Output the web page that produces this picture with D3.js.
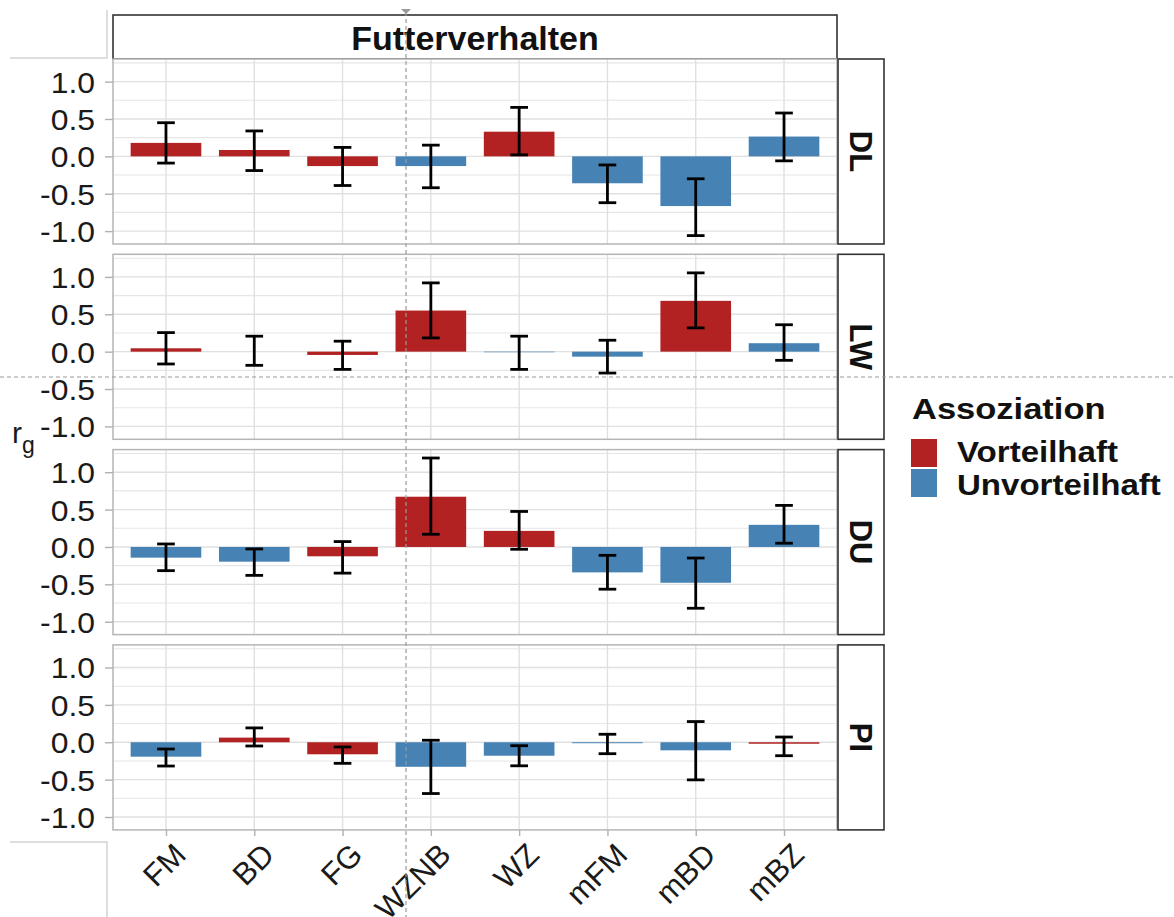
<!DOCTYPE html>
<html>
<head>
<meta charset="utf-8">
<script src="https://cdn.jsdelivr.net/npm/d3@7"></script>
<style>
  html, body { margin: 0; padding: 0; background: #ffffff; }
  svg { display: block; font-family: "Liberation Sans", Arial, sans-serif; }
</style>
</head>
<body>
<script>
// Genetic correlations (r_g) of feeding-behaviour traits with four performance traits
const categories = ["FM", "BD", "FG", "WZNB", "WZ", "mFM", "mBD", "mBZ"];
const traits = ["DL", "LW", "DU", "PI"];
const stripTitle = "Futterverhalten";
const legendTitle = "Assoziation";
const assocLevels = ["Vorteilhaft", "Unvorteilhaft"];
const yTicks = [-1.0, -0.5, 0.0, 0.5, 1.0];
const yMinorTicks = [-0.75, -0.25, 0.25, 0.75, 1.25];

// estimates per trait, ordered like `categories`
const rgDL = [0.18, 0.085, -0.13, -0.13, 0.33, -0.36, -0.665, 0.265];
const loDL = [-0.09, -0.19, -0.39, -0.42, 0.02, -0.62, -1.06, -0.06];
const hiDL = [0.45, 0.34, 0.12, 0.15, 0.655, -0.115, -0.30, 0.58];
const asDL = ["V", "V", "V", "U", "V", "U", "U", "U"];

const rgLW = [0.045, 0.0, -0.044, 0.55, -0.008, -0.067, 0.68, 0.113];
const loLW = [-0.165, -0.183, -0.237, 0.184, -0.237, -0.286, 0.318, -0.116];
const hiLW = [0.255, 0.207, 0.14, 0.92, 0.207, 0.153, 1.054, 0.36];
const asLW = ["V", "U", "V", "V", "U", "U", "V", "U"];

const rgDU = [-0.143, -0.197, -0.125, 0.672, 0.215, -0.34, -0.479, 0.296];
const loDU = [-0.317, -0.38, -0.35, 0.17, -0.031, -0.565, -0.82, 0.05];
const hiDU = [0.04, -0.027, 0.072, 1.19, 0.475, -0.112, -0.148, 0.556];
const asDU = ["U", "U", "V", "V", "V", "U", "U", "U"];

const rgPI = [-0.193, 0.062, -0.161, -0.328, -0.18, -0.013, -0.108, -0.02];
const loPI = [-0.318, -0.05, -0.282, -0.686, -0.315, -0.153, -0.503, -0.18];
const hiPI = [-0.09, 0.192, -0.063, 0.027, -0.046, 0.107, 0.277, 0.07];
const asPI = ["U", "V", "V", "U", "U", "U", "U", "V"];

const series = {
  DL: { rg: rgDL, lo: loDL, hi: hiDL, as: asDL },
  LW: { rg: rgLW, lo: loLW, hi: hiLW, as: asLW },
  DU: { rg: rgDU, lo: loDU, hi: hiDU, as: asDU },
  PI: { rg: rgPI, lo: loPI, hi: hiPI, as: asPI }
};

// ---- layout ----
const W = 1174, H = 917;
const panelLeft = 113, panelRight = 837;
const panelTop0 = 59, panelH = 185, panelGap = 10.3;
const stripW = 46;
const font = '"Liberation Sans", Arial, sans-serif';
const textWiden = 1.1;   // glyphs are set slightly wide
const fillColor = d3.scaleOrdinal().domain(["V", "U"]).range(["#B22222", "#4682B4"]);

const svg = d3.select("body").append("svg").attr("width", W).attr("height", H);

const x = d3.scalePoint().domain(categories).range([panelLeft, panelRight]).padding(0.6);
const bandW = x.step() * 0.8;
const capW = x.step() * 0.2;

// shared y-range with 5% expansion on each side
const allLo = d3.min(traits, t => d3.min(series[t].lo));
const allHi = d3.max(traits, t => d3.max(series[t].hi));
const pad = (allHi - allLo) * 0.05;
const yDomain = [allLo - pad, allHi + pad];

// top facet strip
svg.append("rect")
  .attr("x", panelLeft).attr("y", 15)
  .attr("width", panelRight - panelLeft).attr("height", panelTop0 - 15)
  .attr("fill", "#ffffff").attr("stroke", "#333333").attr("stroke-width", 1.6);
svg.append("text")
  .attr("x", (panelLeft + panelRight) / 2).attr("y", 50)
  .attr("text-anchor", "middle")
  .attr("font-size", 34).attr("font-weight", "bold").attr("fill", "#111")
  .text(stripTitle);

traits.forEach((t, i) => {
  const top = panelTop0 + i * (panelH + panelGap);
  const y = d3.scaleLinear().domain(yDomain).range([top + panelH, top]);
  const s = series[t];
  const g = svg.append("g");

  g.append("rect")
    .attr("x", panelLeft).attr("y", top)
    .attr("width", panelRight - panelLeft).attr("height", panelH)
    .attr("fill", "#ffffff");

  // grid
  g.selectAll(".minor").data(yMinorTicks.filter(v => v > yDomain[0] && v < yDomain[1])).join("line")
    .attr("x1", panelLeft).attr("x2", panelRight)
    .attr("y1", d => y(d)).attr("y2", d => y(d))
    .attr("stroke", "#e6e6e6").attr("stroke-width", 1.1);
  g.selectAll(".major").data(yTicks).join("line")
    .attr("x1", panelLeft).attr("x2", panelRight)
    .attr("y1", d => y(d)).attr("y2", d => y(d))
    .attr("stroke", "#e0e0e0").attr("stroke-width", 1.4);
  g.selectAll(".vgrid").data(categories).join("line")
    .attr("x1", d => x(d)).attr("x2", d => x(d))
    .attr("y1", top).attr("y2", top + panelH)
    .attr("stroke", "#e0e0e0").attr("stroke-width", 1.4);

  const rows = categories.map((c, k) => ({ c, v: s.rg[k], lo: s.lo[k], hi: s.hi[k], a: s.as[k] }));

  // bars
  g.selectAll(".bar").data(rows).join("rect")
    .attr("x", d => x(d.c) - bandW / 2)
    .attr("width", bandW)
    .attr("y", d => y(Math.max(0, d.v)))
    .attr("height", d => Math.abs(y(d.v) - y(0)))
    .attr("fill", d => fillColor(d.a));

  // error bars
  const eb = g.selectAll(".eb").data(rows).join("g")
    .attr("stroke", "#000").attr("stroke-width", 2.8).attr("fill", "none");
  eb.append("line")
    .attr("x1", d => x(d.c)).attr("x2", d => x(d.c))
    .attr("y1", d => y(d.lo)).attr("y2", d => y(d.hi));
  eb.append("line")
    .attr("x1", d => x(d.c) - capW / 2).attr("x2", d => x(d.c) + capW / 2)
    .attr("y1", d => y(d.lo)).attr("y2", d => y(d.lo));
  eb.append("line")
    .attr("x1", d => x(d.c) - capW / 2).attr("x2", d => x(d.c) + capW / 2)
    .attr("y1", d => y(d.hi)).attr("y2", d => y(d.hi));

  // panel border
  g.append("rect")
    .attr("x", panelLeft).attr("y", top)
    .attr("width", panelRight - panelLeft).attr("height", panelH)
    .attr("fill", "none").attr("stroke", "#b5b5b5").attr("stroke-width", 1.5);

  // y axis
  const ya = g.append("g")
    .attr("transform", `translate(${panelLeft},0)`)
    .call(d3.axisLeft(y).tickValues(yTicks).tickFormat(d => d.toFixed(1)).tickSize(8));
  ya.select(".domain").remove();
  ya.selectAll(".tick line").attr("stroke", "#b0b0b0").attr("stroke-width", 1.4);
  ya.selectAll(".tick text")
    .attr("x", null).attr("dy", null)
    .attr("transform", `translate(-18,0) scale(${textWiden},1)`)
    .attr("dominant-baseline", "central")
    .attr("font-family", font).attr("font-size", 29).attr("fill", "#1a1a1a");

  // right facet strip
  svg.append("rect")
    .attr("x", panelRight + 1).attr("y", top)
    .attr("width", stripW).attr("height", panelH)
    .attr("fill", "#ffffff").attr("stroke", "#333333").attr("stroke-width", 1.6);
  svg.append("text")
    .attr("transform", `translate(${panelRight + 1 + stripW / 2},${top + panelH / 2}) rotate(90)`)
    .attr("text-anchor", "middle").attr("dy", "0.36em")
    .attr("font-size", 31).attr("font-weight", "bold").attr("fill", "#111")
    .text(t);

  // x axis on the last panel
  if (i === traits.length - 1) {
    const xa = svg.append("g")
      .attr("transform", `translate(0,${top + panelH})`)
      .call(d3.axisBottom(x).tickSize(6).tickFormat(""));
    xa.select(".domain").remove();
    xa.selectAll(".tick line").attr("stroke", "#b0b0b0").attr("stroke-width", 1.4);
    svg.append("g").selectAll("text").data(categories).join("text")
      .attr("transform", d => `translate(${x(d) + 6},${top + panelH + 11}) rotate(-45)`)
      .attr("text-anchor", "end").attr("dy", "0.72em")
      .attr("font-size", 31).attr("fill", "#1a1a1a")
      .text(d => d);
  }
});

// y axis title r_g
const yt = svg.append("text").attr("x", 12).attr("y", 443).attr("font-size", 30).attr("fill", "#1a1a1a");
yt.append("tspan").text("r");
yt.append("tspan").attr("dy", 10).attr("font-size", 23).text("g");

// legend
const lg = svg.append("g").attr("transform", "translate(911,0)");
lg.append("text")
  .attr("transform", `translate(1,419) scale(${textWiden + 0.05},1)`)
  .attr("font-size", 30).attr("font-weight", "bold").attr("fill", "#111").text(legendTitle);
lg.selectAll(".key").data(assocLevels).join("rect")
  .attr("x", 0).attr("y", (d, k) => 439 + k * 30)
  .attr("width", 26).attr("height", 28)
  .attr("fill", (d, k) => fillColor(["V", "U"][k]));
lg.selectAll(".lab").data(assocLevels).join("text")
  .attr("transform", (d, k) => `translate(46,${462 + k * 33}) scale(${textWiden + 0.04},1)`)
  .attr("font-size", 29).attr("font-weight", "bold").attr("fill", "#111")
  .text(d => d);

// crosshair guide lines and corner marks
const guides = svg.append("g").attr("stroke", "#9a9a9a").attr("stroke-width", 1.2).attr("stroke-dasharray", "4,3");
guides.append("line").attr("x1", 406).attr("x2", 406).attr("y1", 12).attr("y2", H);
guides.append("line").attr("x1", 0).attr("x2", W).attr("y1", 377).attr("y2", 377);
svg.append("path").attr("d", "M401,9 L411,9 L406,14 Z").attr("fill", "#9a9a9a");
const corners = svg.append("g").attr("stroke", "#d4d4d4").attr("stroke-width", 1.5).attr("fill", "none");
corners.append("path").attr("d", "M10,58 L107,58 L107,10");
corners.append("path").attr("d", "M10,842 L107,842 L107,917");
</script>
</body>
</html>
